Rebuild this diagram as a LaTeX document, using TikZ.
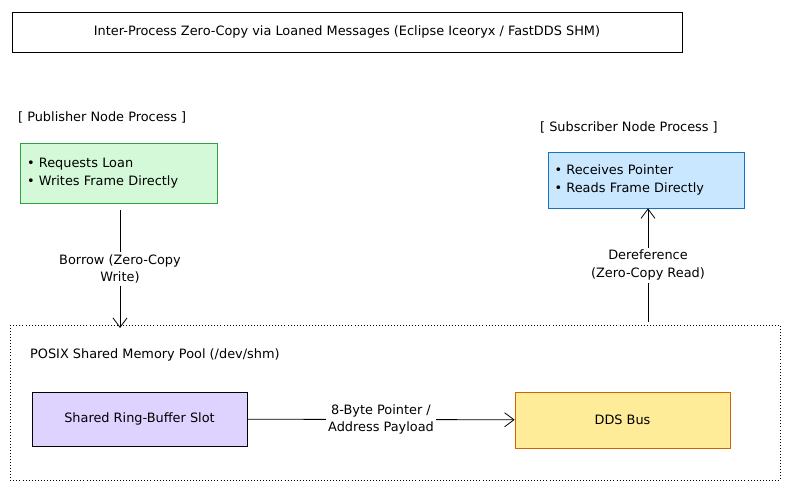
\documentclass[tikz,border=0pt]{standalone}
\usepackage{fontspec}
\setmainfont{DejaVu Sans}
\usetikzlibrary{positioning,arrows.meta}

\definecolor{pubfill}{HTML}{D3F9D8}
\definecolor{publine}{HTML}{2F9E44}
\definecolor{subfill}{HTML}{A5D8FF}
\definecolor{subline}{HTML}{1971C2}
\definecolor{slotfill}{HTML}{D0BFFF}
\definecolor{busfill}{HTML}{FFEC99}

\tikzset{
  txt/.style={font=\fontsize{11}{15}\selectfont, align=center},
  box/.style={draw, line width=0.6pt, txt, inner sep=0pt},
  list/.style={align=left, text width=183*0.03cm},
  link/.style={draw, line width=0.7pt, -{Straight Barb[length=8pt,width=12pt]}},
  lbl/.style={txt, fill=white, inner sep=2pt}
}

\begin{document}
\begin{tikzpicture}[x=0.03cm,y=-0.03cm]
\useasboundingbox (0,0) rectangle (789,489);

% title
\node[box, minimum width=670*0.03cm, minimum height=40*0.03cm] (title) at (347,32)
  {Inter-Process Zero-Copy via Loaned Messages (Eclipse Iceoryx / FastDDS SHM)};

% processes
\node[txt, anchor=west] (publbl) at (14,117) {[ Publisher Node Process ]};
\node[box, list, draw=publine, fill=pubfill, minimum width=197*0.03cm, minimum height=60*0.03cm]
  (pub) at (118.5,173)
  {\textbullet\ Requests Loan\\ \textbullet\ Writes Frame Directly};

\node[txt, anchor=west] (sublbl) at (536,127) {[ Subscriber Node Process ]};
\node[box, list, draw=subline, fill=subfill!60, minimum width=196*0.03cm, minimum height=56*0.03cm]
  (sub) at (646,180)
  {\textbullet\ Receives Pointer\\ \textbullet\ Reads Frame Directly};

% shared memory pool
\draw[line width=0.6pt, dotted] (10,325) rectangle (780,480);
\node[txt, anchor=west] (poollbl) at (26,355) {POSIX Shared Memory Pool (/dev/shm)};

\node[box, fill=slotfill!70, minimum width=215*0.03cm, minimum height=54*0.03cm] (slot) at (139.5,419)
  {Shared Ring-Buffer Slot};
\node[box, draw=orange!80!black, fill=busfill, minimum width=215*0.03cm, minimum height=56*0.03cm] (bus) at (622.5,420)
  {DDS Bus};

\coordinate (borrowstart) at (120,210);
\coordinate (borrowend) at (120,328);
\coordinate (derefstart) at (648,322);

% connectors
\draw[link] (borrowstart) -- (borrowend)
  node[lbl, midway] {Borrow (Zero-Copy\\Write)};
\draw[link] (derefstart) -- (sub.south -| derefstart)
  node[lbl, midway] {Dereference\\(Zero-Copy Read)};
\draw[link] (slot) -- (bus)
  node[lbl, midway] {8-Byte Pointer /\\Address Payload};

\end{tikzpicture}
\end{document}
